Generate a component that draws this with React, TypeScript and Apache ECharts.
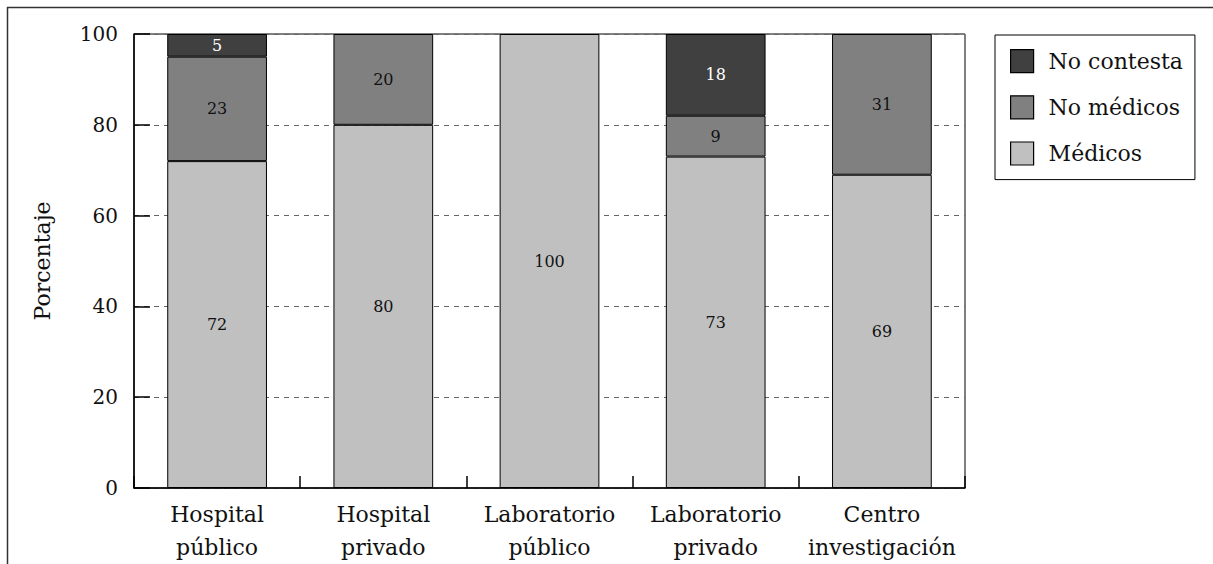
import React, { useEffect, useRef } from "react";
import * as echarts from "echarts";

const categories = [
  "Hospital\npúblico",
  "Hospital\nprivado",
  "Laboratorio\npúblico",
  "Laboratorio\nprivado",
  "Centro\ninvestigación",
];
const medicos = [72, 80, 100, 73, 69];
const noMedicos = [23, 20, 0, 9, 31];
const noContesta = [5, 0, 0, 18, 0];
const yTicks = { min: 0, max: 100, interval: 20 };

const FONT = "DejaVu Serif";

export default function App() {
  const ref = useRef<HTMLDivElement>(null);
  useEffect(() => {
    if (!ref.current) return;
    const chart = echarts.init(ref.current, null, { renderer: "svg" });
    const toData = (arr: number[]) => arr.map((v) => (v === 0 ? "-" : v));
    const mkSeries = (name: string, data: number[], color: string, labelColor: string) => ({
      name,
      type: "bar",
      stack: "total",
      barWidth: "60%",
      data: toData(data),
      itemStyle: { color, borderColor: "#000", borderWidth: 1 },
      label: {
        show: true,
        position: "inside",
        color: labelColor,
        fontFamily: FONT,
        fontSize: 16,
      },
    });
    chart.setOption({
      animation: false,
      textStyle: { fontFamily: FONT },
      grid: {
        left: 134,
        right: 248,
        top: 34,
        bottom: 76,
        show: true,
        borderColor: "#000",
        borderWidth: 1,
        containLabel: false,
      },
      legend: {
        orient: "vertical",
        left: 995,
        top: 35,
        padding: [14, 12, 14, 15],
        itemWidth: 23,
        itemHeight: 23,
        itemGap: 22,
        icon: "rect",
        borderColor: "#000",
        borderWidth: 1,
        data: ["No contesta", "No médicos", "Médicos"],
        itemStyle: { borderColor: "#000", borderWidth: 1.2 },
        textStyle: {
          fontFamily: FONT,
          fontSize: 22,
          color: "#111",
          padding: [0, 0, 0, 10],
        },
      },
      xAxis: {
        type: "category",
        data: categories,
        axisLine: { show: true, lineStyle: { color: "#000", width: 1.5 } },
        axisTick: {
          show: true,
          inside: true,
          length: 12,
          lineStyle: { color: "#000", width: 1.5 },
        },
        axisLabel: {
          fontFamily: FONT,
          fontSize: 22,
          lineHeight: 33,
          color: "#111",
          margin: 10,
          interval: 0,
        },
      },
      yAxis: {
        type: "value",
        min: yTicks.min,
        max: yTicks.max,
        interval: yTicks.interval,
        name: "Porcentaje",
        nameLocation: "middle",
        nameGap: 81,
        nameTextStyle: { fontFamily: FONT, fontSize: 22, color: "#111" },
        axisLine: { show: true, lineStyle: { color: "#000", width: 1.5 } },
        axisTick: {
          show: true,
          inside: true,
          length: 16,
          lineStyle: { color: "#000", width: 1.5 },
        },
        axisLabel: {
          fontFamily: FONT,
          fontSize: 20,
          color: "#111",
          margin: 16,
        },
        splitLine: {
          show: true,
          lineStyle: { color: "#666", type: [5, 5], width: 1 },
        },
      },
      graphic: [
        {
          type: "line",
          shape: { x1: 7, y1: 7.5, x2: 1213, y2: 7.5 },
          style: { stroke: "#333", lineWidth: 1.5 },
        },
        {
          type: "line",
          shape: { x1: 7.5, y1: 7, x2: 7.5, y2: 564 },
          style: { stroke: "#333", lineWidth: 1.5 },
        },
      ],
      series: [
        mkSeries("Médicos", medicos, "#c0c0c0", "#111"),
        mkSeries("No médicos", noMedicos, "#808080", "#111"),
        mkSeries("No contesta", noContesta, "#404040", "#fff"),
      ],
    });
    return () => chart.dispose();
  }, []);
  return (
    <div
      ref={ref}
      style={{ position: "fixed", left: 0, top: 0, width: 1213, height: 564, background: "#fff" }}
    />
  );
}
